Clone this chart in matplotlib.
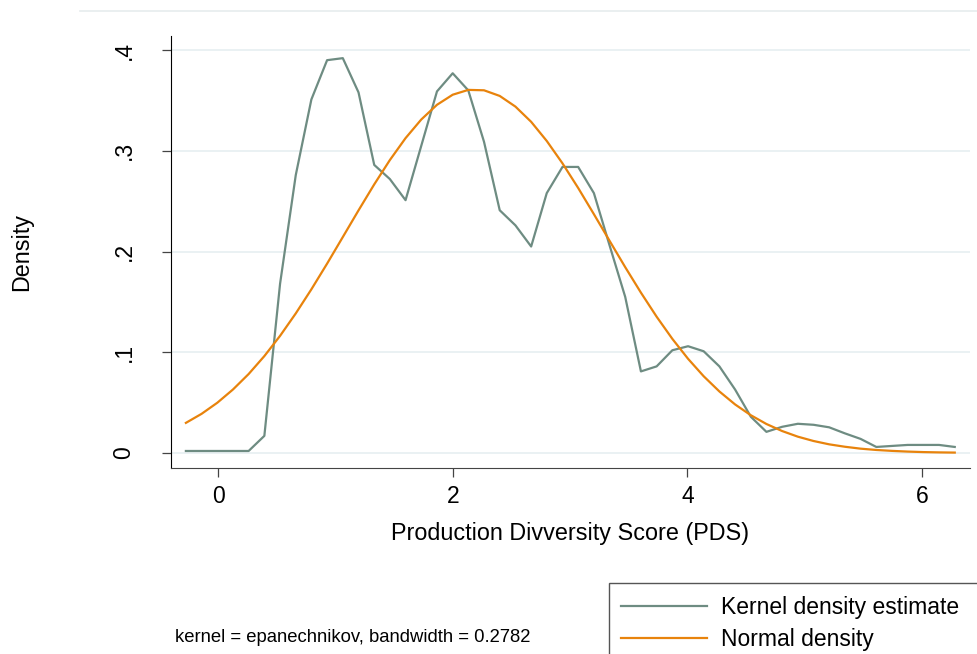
"""Kernel density of the PDS score with a normal overlay (Stata look)."""
import matplotlib
matplotlib.use("Agg")
import matplotlib.pyplot as plt
from matplotlib.lines import Line2D
from matplotlib.patches import Rectangle

plt.rcParams['font.family'] = ['Liberation Sans', 'DejaVu Sans']

# evaluation grid (50 points, as kdensity does)
pds = [-0.276, -0.142, -0.008, 0.125, 0.259, 0.393, 0.527, 0.661, 0.794, 0.928,
       1.062, 1.196, 1.330, 1.463, 1.597, 1.731, 1.865, 1.999, 2.132, 2.266,
       2.400, 2.534, 2.668, 2.801, 2.935, 3.069, 3.203, 3.337, 3.470, 3.604,
       3.738, 3.872, 4.006, 4.139, 4.273, 4.407, 4.541, 4.674, 4.808, 4.942,
       5.076, 5.209, 5.343, 5.477, 5.611, 5.744, 5.878, 6.012, 6.146, 6.280]

kde = [0.002, 0.002, 0.002, 0.002, 0.002, 0.017, 0.168, 0.276, 0.351, 0.390,
       0.392, 0.358, 0.286, 0.272, 0.251, 0.305, 0.359, 0.377, 0.360, 0.309,
       0.241, 0.226, 0.205, 0.258, 0.284, 0.284, 0.258, 0.206, 0.155, 0.081,
       0.086, 0.102, 0.106, 0.101, 0.086, 0.063, 0.036, 0.021, 0.026, 0.029,
       0.028, 0.0255, 0.0195, 0.014, 0.006, 0.007, 0.008, 0.008, 0.008, 0.006]

normal = [0.0299, 0.0389, 0.0499, 0.0630, 0.0784, 0.0962, 0.1163, 0.1386, 0.1625, 0.1880,
          0.2144, 0.2409, 0.2667, 0.2908, 0.3126, 0.3311, 0.3457, 0.3557, 0.3605, 0.3601,
          0.3545, 0.3439, 0.3288, 0.3098, 0.2876, 0.2631, 0.2371, 0.2106, 0.1845, 0.1592,
          0.1353, 0.1133, 0.0935, 0.0762, 0.0611, 0.0482, 0.0375, 0.0288, 0.0218, 0.0162,
          0.0119, 0.0086, 0.0062, 0.0043, 0.0030, 0.0021, 0.0014, 0.0009, 0.0006, 0.0004]

xticks = [0, 2, 4, 6]
yticks = [0, 0.1, 0.2, 0.3, 0.4]
ytick_labels = ['0', '.1', '.2', '.3', '.4']

kde_color = '#6e8c82'
norm_color = '#e8830c'
grid_color = '#eaf1f3'

fig = plt.figure(figsize=(9.77, 6.54), dpi=100)
ax = fig.add_axes([171 / 977, 1 - 468 / 654, 799 / 977, 432 / 654])

ax.plot(pds, kde, color=kde_color, lw=1.6, label='Kernel density estimate', zorder=3)
ax.plot(pds, normal, color=norm_color, lw=1.6, label='Normal density', zorder=3)

ax.set_xlim(-0.403, 6.41)
ax.set_ylim(-0.0149, 0.414)
ax.set_xticks(xticks)
ax.set_xticklabels([str(t) for t in xticks])
ax.set_yticks(yticks)
ax.set_yticklabels(ytick_labels, rotation=90, va='center')

for y in yticks:
    ax.axhline(y, color=grid_color, lw=1.4, zorder=1)

for side in ['top', 'right']:
    ax.spines[side].set_visible(False)
ax.spines['left'].set_color('black')
ax.spines['bottom'].set_color('#444444')
ax.tick_params(axis='both', direction='out', length=6.5, width=0.9,
               color='#444444', labelsize=16.5)
ax.tick_params(axis='y', pad=19)
ax.tick_params(axis='x', pad=6)

ax.set_xlabel('Production Divversity Score (PDS)', fontsize=16.8, labelpad=9.5)
ax.set_ylabel('Density', fontsize=16.8)
ax.yaxis.set_label_coords(-0.173, 0.5)

# faint graph-region border at the top
fig.add_artist(Line2D([80 / 977, 1], [1 - 11 / 654] * 2, color='#e6eced', lw=1.2))

fig.text(175 / 977, 1 - 637 / 654, 'kernel = epanechnikov, bandwidth = 0.2782',
         fontsize=13.3, va='center', ha='left')

# legend frame runs off the canvas on the right and bottom
fig.add_artist(Rectangle((609 / 977, -0.1), 0.5, 0.1 + (654 - 583) / 654,
                         transform=fig.transFigure, fill=False,
                         edgecolor='#555555', lw=1.0))
fig.legend(loc='upper left', bbox_to_anchor=(616 / 977, 1 - 591 / 654),
           frameon=False, fontsize=16.5, handlelength=3.75, handletextpad=0.65,
           labelspacing=0.42, borderpad=0.2, borderaxespad=0)

fig.savefig('out.png', dpi=100)
